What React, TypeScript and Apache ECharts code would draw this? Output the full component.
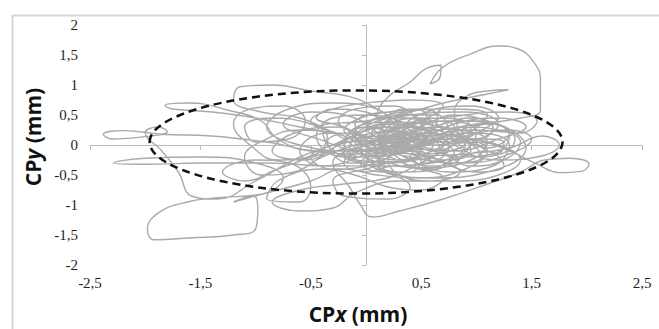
import React, { useEffect, useRef } from "react";
import * as echarts from "echarts";

// Centre-of-pressure trajectory (mm), in drawing order
const segCore1: number[][] = [
  [0.05, 0.02], [0.35, 0.18], [0.62, 0.12], [0.55, -0.15], [0.2, -0.28], [-0.2, -0.12], [-0.15, 0.22],
  [0.2, 0.38], [0.7, 0.3], [1.1, 0.05], [0.95, -0.25], [0.5, -0.38], [0.05, -0.2], [-0.4, 0.08],
  [-0.75, 0.35], [-0.5, 0.55], [-0.1, 0.45], [0.15, 0.15], [0.45, -0.05], [0.8, -0.1], [1.2, 0.1],
  [1.45, 0.3], [1.2, 0.45], [0.8, 0.35], [0.5, 0.1],
];
const segLeftLoop: number[][] = [
  [0.1, -0.05], [-0.4, -0.1], [-0.9, 0.05], [-1.4, 0.15], [-1.85, 0.18], [-2.2, 0.24], [-2.38, 0.18],
  [-2.3, 0.1], [-2.0, 0.14], [-1.8, 0.22], [-1.88, 0.3], [-2.0, 0.2], [-1.85, -0.1], [-1.7, -0.45],
  [-1.58, -0.85], [-1.35, -0.9], [-1.0, -0.6], [-0.6, -0.2], [-0.3, 0.0],
];
const segCore2: number[][] = [
  [0.0, 0.25], [0.4, 0.5], [0.9, 0.55], [1.2, 0.35], [1.0, 0.1], [0.6, 0.05], [0.3, 0.3], [0.1, 0.6],
  [-0.3, 0.7], [-0.7, 0.6], [-0.9, 0.3], [-0.6, 0.0], [-0.1, -0.1], [0.3, 0.05], [0.5, 0.35],
  [0.25, 0.55], [-0.1, 0.35], [0.0, 0.05], [0.4, -0.2], [0.9, -0.3], [1.3, -0.15], [1.5, 0.1],
  [1.3, 0.25], [0.9, 0.15], [0.6, -0.1],
];
const segLowerLeft: number[][] = [
  [0.2, -0.3], [-0.3, -0.35], [-0.9, -0.3], [-1.5, -0.3], [-2.0, -0.32], [-2.29, -0.3], [-2.0, -0.22],
  [-1.5, -0.2], [-1.0, -0.3], [-0.75, -0.55], [-0.95, -0.82], [-1.35, -0.88], [-1.62, -0.95],
  [-1.87, -1.12], [-1.98, -1.4], [-1.92, -1.58], [-1.6, -1.55], [-1.2, -1.5], [-1.0, -1.4],
  [-0.98, -1.05], [-1.02, -0.85], [-1.2, -0.95], [-0.9, -0.8], [-0.5, -0.6], [-0.2, -0.4],
];
const segBottom: number[][] = [
  [0.1, -0.5], [0.5, -0.55], [0.9, -0.4], [1.1, -0.1], [0.8, 0.15], [0.4, 0.2], [0.0, 0.0],
  [-0.3, -0.3], [-0.15, -0.7], [-0.05, -1.0], [0.05, -1.2], [0.3, -1.1], [0.7, -0.9], [1.1, -0.65],
  [1.4, -0.45], [1.62, -0.25], [1.85, -0.22], [2.02, -0.32], [1.95, -0.44], [1.75, -0.46],
  [1.55, -0.32], [1.3, -0.1], [1.0, 0.05], [0.6, 0.0],
];
const segTopRight: number[][] = [
  [0.3, 0.2], [0.1, 0.5], [0.2, 0.8], [0.4, 1.05], [0.55, 1.28], [0.68, 1.33], [0.67, 1.13],
  [0.58, 1.02], [0.7, 1.3], [0.95, 1.52], [1.2, 1.65], [1.38, 1.6], [1.52, 1.38], [1.58, 1.1],
  [1.58, 0.8], [1.58, 0.58], [1.4, 0.45], [1.0, 0.35], [0.6, 0.25],
];
const segTopBand: number[][] = [
  [0.3, 0.4], [-0.1, 0.78], [-0.5, 0.9], [-0.84, 1.0], [-1.14, 0.97], [-1.2, 0.75], [-0.95, 0.55],
  [-0.6, 0.45], [-0.3, 0.2],
];
const segUpperLeft: number[][] = [
  [-0.6, 0.3], [-1.0, 0.45], [-1.4, 0.55], [-1.75, 0.6], [-1.82, 0.66], [-1.6, 0.7], [-1.25, 0.58],
  [-0.95, 0.4], [-0.8, 0.1], [-0.5, -0.1], [0.0, -0.15],
];
const segCore3: number[][] = [
  [0.3, -0.05], [0.7, 0.2], [0.5, 0.45], [0.1, 0.3], [-0.2, 0.0], [0.1, -0.35], [0.6, -0.3],
  [0.9, 0.0], [0.7, 0.3], [0.3, 0.15], [0.0, -0.15], [-0.4, -0.35], [-0.6, -0.1], [-0.35, 0.2],
  [0.05, 0.1], [0.35, -0.2], [0.75, -0.45], [1.15, -0.35], [1.3, 0.0], [1.0, 0.2], [0.6, 0.1],
  [0.2, -0.1], [-0.1, 0.2], [0.2, 0.5], [0.7, 0.6], [1.1, 0.5], [0.9, 0.2],
];
const segRightStroke: number[][] = [
  [0.8, 0.55], [0.9, 0.8], [1.1, 0.9], [1.29, 0.92], [1.1, 0.85], [0.7, 0.7], [0.4, 0.55],
  [0.0, 0.4], [-0.4, 0.3], [-0.3, -0.1], [0.1, -0.4], [0.4, -0.7], [0.2, -0.9], [-0.2, -0.85],
  [-0.3, -0.6], [0.0, -0.4], [0.5, -0.2],
];
const segCore4: number[][] = [
  [0.9, -0.15], [1.3, -0.05], [1.6, 0.15], [1.75, 0.0], [1.55, -0.2], [1.2, -0.25], [0.8, 0.0],
  [0.6, 0.35], [0.9, 0.5], [1.3, 0.55], [1.55, 0.4], [1.4, 0.2], [1.0, 0.25], [0.6, 0.15],
  [0.3, -0.1], [0.1, 0.1], [0.3, 0.35], [0.0, 0.5], [-0.3, 0.45], [-0.45, 0.15], [-0.2, -0.2],
  [0.2, -0.15], [0.4, 0.1], [0.2, 0.25], [0.0, 0.0],
];
const segMidLeft: number[][] = [
  [-0.4, -0.15], [-0.8, -0.4], [-1.1, -0.6], [-1.3, -0.45], [-1.0, -0.25], [-0.7, -0.3],
  [-0.5, -0.7], [-0.6, -0.95], [-0.9, -0.9], [-0.8, -0.6], [-0.4, -0.4], [-0.1, -0.5],
  [0.2, -0.7], [0.5, -0.75], [0.7, -0.55], [0.4, -0.35], [0.1, -0.1], [-0.2, 0.15], [-0.5, 0.4],
  [-0.3, 0.6], [0.0, 0.7], [0.4, 0.75], [0.7, 0.65], [0.5, 0.4], [0.2, 0.2], [0.05, 0.0],
];
const segCore5: number[][] = [
  [0.3, 0.3], [0.65, 0.45], [0.95, 0.3], [0.85, -0.05], [0.45, -0.15], [0.15, 0.05], [0.25, 0.35],
  [0.55, 0.25], [0.75, -0.05], [0.55, -0.3], [0.15, -0.35], [-0.15, -0.1], [-0.05, 0.25],
  [0.3, 0.45], [0.6, 0.3], [0.45, 0.0], [0.05, -0.05], [-0.25, 0.3], [-0.65, 0.2], [-0.85, -0.1],
  [-0.55, -0.25], [-0.15, 0.05], [0.35, 0.1], [0.85, 0.4], [1.25, 0.3], [1.45, -0.05],
  [1.1, -0.45], [0.6, -0.55], [0.2, -0.45],
];
const segCore6: number[][] = [
  [-0.2, 0.1], [-0.5, 0.35], [-0.85, 0.45], [-1.1, 0.3], [-1.0, 0.05], [-0.7, 0.1], [-0.55, 0.4],
  [-0.75, 0.65], [-1.05, 0.6], [-1.2, 0.35], [-1.05, 0.0], [-0.8, -0.25], [-0.45, -0.15],
  [-0.35, 0.15], [-0.6, 0.25], [-0.9, 0.1], [-1.1, -0.2], [-0.95, -0.5], [-0.65, -0.45],
  [-0.4, -0.2], [-0.1, 0.0],
];
const segCore7: number[][] = [
  [0.2, 0.1], [0.45, 0.35], [0.75, 0.4], [1.0, 0.2], [0.85, -0.1], [0.55, -0.05], [0.45, 0.2],
  [0.7, 0.4], [1.05, 0.4], [1.3, 0.15], [1.15, -0.15], [0.8, -0.2], [0.65, 0.05], [0.9, 0.3],
  [1.2, 0.25], [1.4, 0.05], [1.25, -0.25], [0.95, -0.35], [0.7, -0.15], [0.4, 0.0], [0.15, 0.25],
  [0.35, 0.5], [0.65, 0.5], [0.6, 0.2], [0.3, 0.0], [0.05, -0.25], [0.3, -0.45], [0.65, -0.4],
  [0.8, -0.15], [0.5, 0.1], [0.2, 0.05],
];
const segCore8: number[][] = [
  [0.0, 0.15], [-0.25, 0.4], [-0.1, 0.6], [0.25, 0.65], [0.45, 0.4], [0.2, 0.15], [-0.05, -0.05],
  [0.15, -0.3], [0.45, -0.25], [0.5, 0.05], [0.25, 0.2], [0.0, 0.3], [-0.2, 0.05], [-0.05, -0.2],
  [0.3, -0.15], [0.6, 0.1], [0.9, 0.05], [1.05, -0.2], [0.75, -0.3], [0.45, -0.1], [0.35, 0.25],
  [0.55, 0.55], [0.95, 0.65], [1.2, 0.45], [1.05, 0.25],
];
const segLower2: number[][] = [
  [0.8, 0.0], [0.5, -0.3], [0.2, -0.55], [-0.2, -0.65], [-0.6, -0.75], [-0.85, -0.95], [-0.6, -1.1],
  [-0.3, -1.05], [-0.1, -0.8], [0.3, -0.6], [0.8, -0.6], [1.2, -0.5], [1.4, -0.25], [1.2, 0.0],
  [0.8, 0.1],
];
const segCore9: number[][] = [
  [0.1, 0.0], [0.25, 0.15], [0.4, 0.05], [0.3, -0.1], [0.1, -0.05], [0.05, 0.2], [0.25, 0.3],
  [0.45, 0.2], [0.5, -0.05], [0.35, -0.25], [0.1, -0.2], [-0.05, 0.0], [0.1, 0.15], [0.35, 0.1],
  [0.6, -0.1], [0.8, 0.05], [0.65, 0.25], [0.4, 0.3], [0.3, 0.1], [0.5, -0.15], [0.75, -0.25],
  [0.95, -0.1], [0.85, 0.15], [0.6, 0.2],
];
const segCore10: number[][] = [
  [0.4, 0.45], [0.15, 0.45], [0.0, 0.3], [0.2, 0.1], [0.45, 0.15], [0.7, 0.35], [0.95, 0.45],
  [1.15, 0.3], [1.05, 0.1], [0.8, 0.15], [0.7, 0.45], [0.5, 0.6], [0.2, 0.55], [-0.05, 0.45],
  [-0.2, 0.25], [0.0, 0.05], [0.3, -0.05], [0.55, 0.1], [0.4, 0.3], [0.15, 0.35], [-0.1, 0.15],
  [-0.3, -0.1], [-0.15, -0.3], [0.15, -0.25], [0.35, 0.0],
];
const segCore11: number[][] = [
  [0.6, -0.2], [0.85, -0.45], [0.6, -0.6], [0.3, -0.5], [0.2, -0.25], [0.45, -0.1], [0.7, -0.3],
  [1.0, -0.45], [1.25, -0.35], [1.1, -0.1], [0.85, -0.2], [0.55, -0.4], [0.25, -0.35], [0.0, -0.45],
  [-0.2, -0.3], [-0.05, -0.1], [0.25, -0.15], [0.5, 0.0], [0.75, 0.15], [1.0, 0.0], [1.2, -0.15],
  [1.35, 0.1], [1.15, 0.35], [0.85, 0.25],
];
const segCore12: number[][] = [
  [0.6, 0.05], [0.3, -0.1], [0.05, 0.05], [-0.2, 0.3], [-0.45, 0.45], [-0.3, 0.6], [0.0, 0.55],
  [0.15, 0.3], [-0.05, 0.1], [-0.3, 0.0], [-0.5, -0.2], [-0.3, -0.4], [0.0, -0.35], [0.2, -0.1],
  [0.4, 0.2], [0.65, 0.3], [0.9, 0.15], [1.1, -0.05], [1.3, 0.2], [1.1, 0.4], [0.8, 0.5],
  [0.55, 0.35], [0.35, 0.15], [0.1, 0.0],
];
const segCore13: number[][] = [
  [0.15, 0.05], [0.3, 0.2], [0.5, 0.25], [0.6, 0.1], [0.45, -0.05], [0.25, 0.0], [0.2, 0.2],
  [0.4, 0.35], [0.6, 0.4], [0.8, 0.3], [0.75, 0.1], [0.55, 0.0], [0.4, -0.2], [0.55, -0.35],
  [0.8, -0.3], [0.9, -0.1], [1.05, 0.1], [1.25, 0.05], [1.2, -0.15], [1.0, -0.2], [0.85, 0.0],
  [0.65, 0.15], [0.4, 0.1], [0.2, -0.05], [0.0, -0.1], [-0.1, 0.05], [0.05, 0.2],
];
const segCore14: number[][] = [
  [0.3, 0.25], [0.2, 0.45], [0.35, 0.6], [0.55, 0.5], [0.5, 0.3], [0.3, 0.15], [0.1, -0.1],
  [-0.05, -0.3], [0.15, -0.45], [0.4, -0.45], [0.5, -0.25], [0.3, -0.1], [0.05, 0.1], [-0.15, 0.2],
  [-0.35, 0.05], [-0.25, -0.15], [0.0, -0.2], [0.25, 0.0], [0.5, 0.15], [0.7, 0.0], [0.6, -0.2],
  [0.35, -0.25], [0.2, -0.05],
];

const trajectory: number[][] = [
  ...segCore1, ...segLeftLoop, ...segCore2, ...segLowerLeft, ...segBottom, ...segTopRight,
  ...segTopBand, ...segUpperLeft, ...segCore3, ...segRightStroke, ...segCore4, ...segMidLeft,
  ...segCore5, ...segCore6, ...segCore7, ...segCore8, ...segLower2, ...segCore9, ...segCore10,
  ...segCore11, ...segCore12, ...segCore13, ...segCore14,
];

// 95% confidence ellipse: centre (x, y) and semi-axes (x, y), mm
const ellipseCenter = [-0.09, 0.05];
const ellipseRadii = [1.87, 0.86];

const xMin = -2.5, xMax = 2.5, xStep = 1;
const yMin = -2, yMax = 2, yStep = 0.5;

const fmt = (v: number) => String(Math.round(v * 10) / 10).replace(".", ",");

export default function App() {
  const ref = useRef<HTMLDivElement>(null);
  useEffect(() => {
    if (!ref.current) return;
    const chart = echarts.init(ref.current, null, { renderer: "svg" });
    const titleRich = {
      a: { fontFamily: "Open Sans", fontWeight: "bold", fontSize: 21, fill: "#111" },
      b: { fontFamily: "Open Sans", fontWeight: "bold", fontStyle: "italic", fontSize: 21, fill: "#111" },
    };
    chart.setOption({
      animation: false,
      textStyle: { fontFamily: "Liberation Serif" },
      grid: { left: 90, right: 17, top: 25, bottom: 64 },
      xAxis: [
        {
          type: "value", min: xMin, max: xMax, interval: xStep, position: "bottom",
          axisLine: { show: false, onZero: false }, axisTick: { show: false }, splitLine: { show: false },
          axisLabel: {
            show: true, fontFamily: "Liberation Serif", fontSize: 15, color: "#1f1f1f",
            margin: 10, formatter: fmt,
          },
        },
        {
          type: "value", min: xMin, max: xMax, interval: xStep, position: "bottom",
          axisLine: { show: true, onZero: true, lineStyle: { color: "#bdbdbd", width: 1 } },
          axisTick: { show: true, length: 5, lineStyle: { color: "#bdbdbd" } },
          axisLabel: { show: false }, splitLine: { show: false },
        },
      ],
      yAxis: [
        {
          type: "value", min: yMin, max: yMax, interval: yStep, position: "left",
          axisLine: { show: false, onZero: false }, axisTick: { show: false }, splitLine: { show: false },
          axisLabel: {
            show: true, fontFamily: "Liberation Serif", fontSize: 15, color: "#1f1f1f",
            margin: 12, formatter: fmt,
          },
        },
        {
          type: "value", min: yMin, max: yMax, interval: yStep, position: "left",
          axisLine: { show: true, onZero: true, onZeroAxisIndex: 0, lineStyle: { color: "#bdbdbd", width: 1 } },
          axisTick: { show: true, length: 4, lineStyle: { color: "#bdbdbd" } },
          axisLabel: { show: false }, splitLine: { show: false },
        },
      ],
      series: [
        {
          type: "line", xAxisIndex: 0, yAxisIndex: 0, data: trajectory, showSymbol: false,
          smooth: 0.45, lineStyle: { color: "#aaaaaa", width: 1.4 }, silent: true,
        },
        {
          type: "custom", xAxisIndex: 0, yAxisIndex: 0, silent: true, z: 5,
          data: [[ellipseCenter[0], ellipseCenter[1], ellipseRadii[0], ellipseRadii[1]]],
          encode: { x: 0, y: 1 },
          renderItem: (_p: any, api: any) => {
            const c = api.coord([api.value(0), api.value(1)]);
            const s = api.size([api.value(2), api.value(3)]);
            return {
              type: "ellipse",
              shape: { cx: c[0], cy: c[1], rx: s[0], ry: s[1] },
              style: { fill: "none", stroke: "#111", lineWidth: 2.5, lineDash: [8, 5] },
            };
          },
        },
      ],
      graphic: [
        {
          type: "rect", left: 10, top: 13, silent: true,
          shape: { width: 648, height: 330 },
          style: { fill: "none", stroke: "#d6d6d6", lineWidth: 2 },
        },
        {
          type: "text", x: 33, y: 137, rotation: Math.PI / 2,
          style: { text: "{a|CP}{b|y}{a| (mm)}", rich: titleRich, align: "center", verticalAlign: "middle" },
        },
        {
          type: "text", x: 358, y: 314,
          style: { text: "{a|CP}{b|x}{a| (mm)}", rich: titleRich, align: "center", verticalAlign: "middle" },
        },
      ],
    });
    return () => chart.dispose();
  }, []);
  return <div ref={ref} style={{ position: "fixed", left: 0, top: 0, width: 659, height: 329, background: "#fff" }} />;
}
